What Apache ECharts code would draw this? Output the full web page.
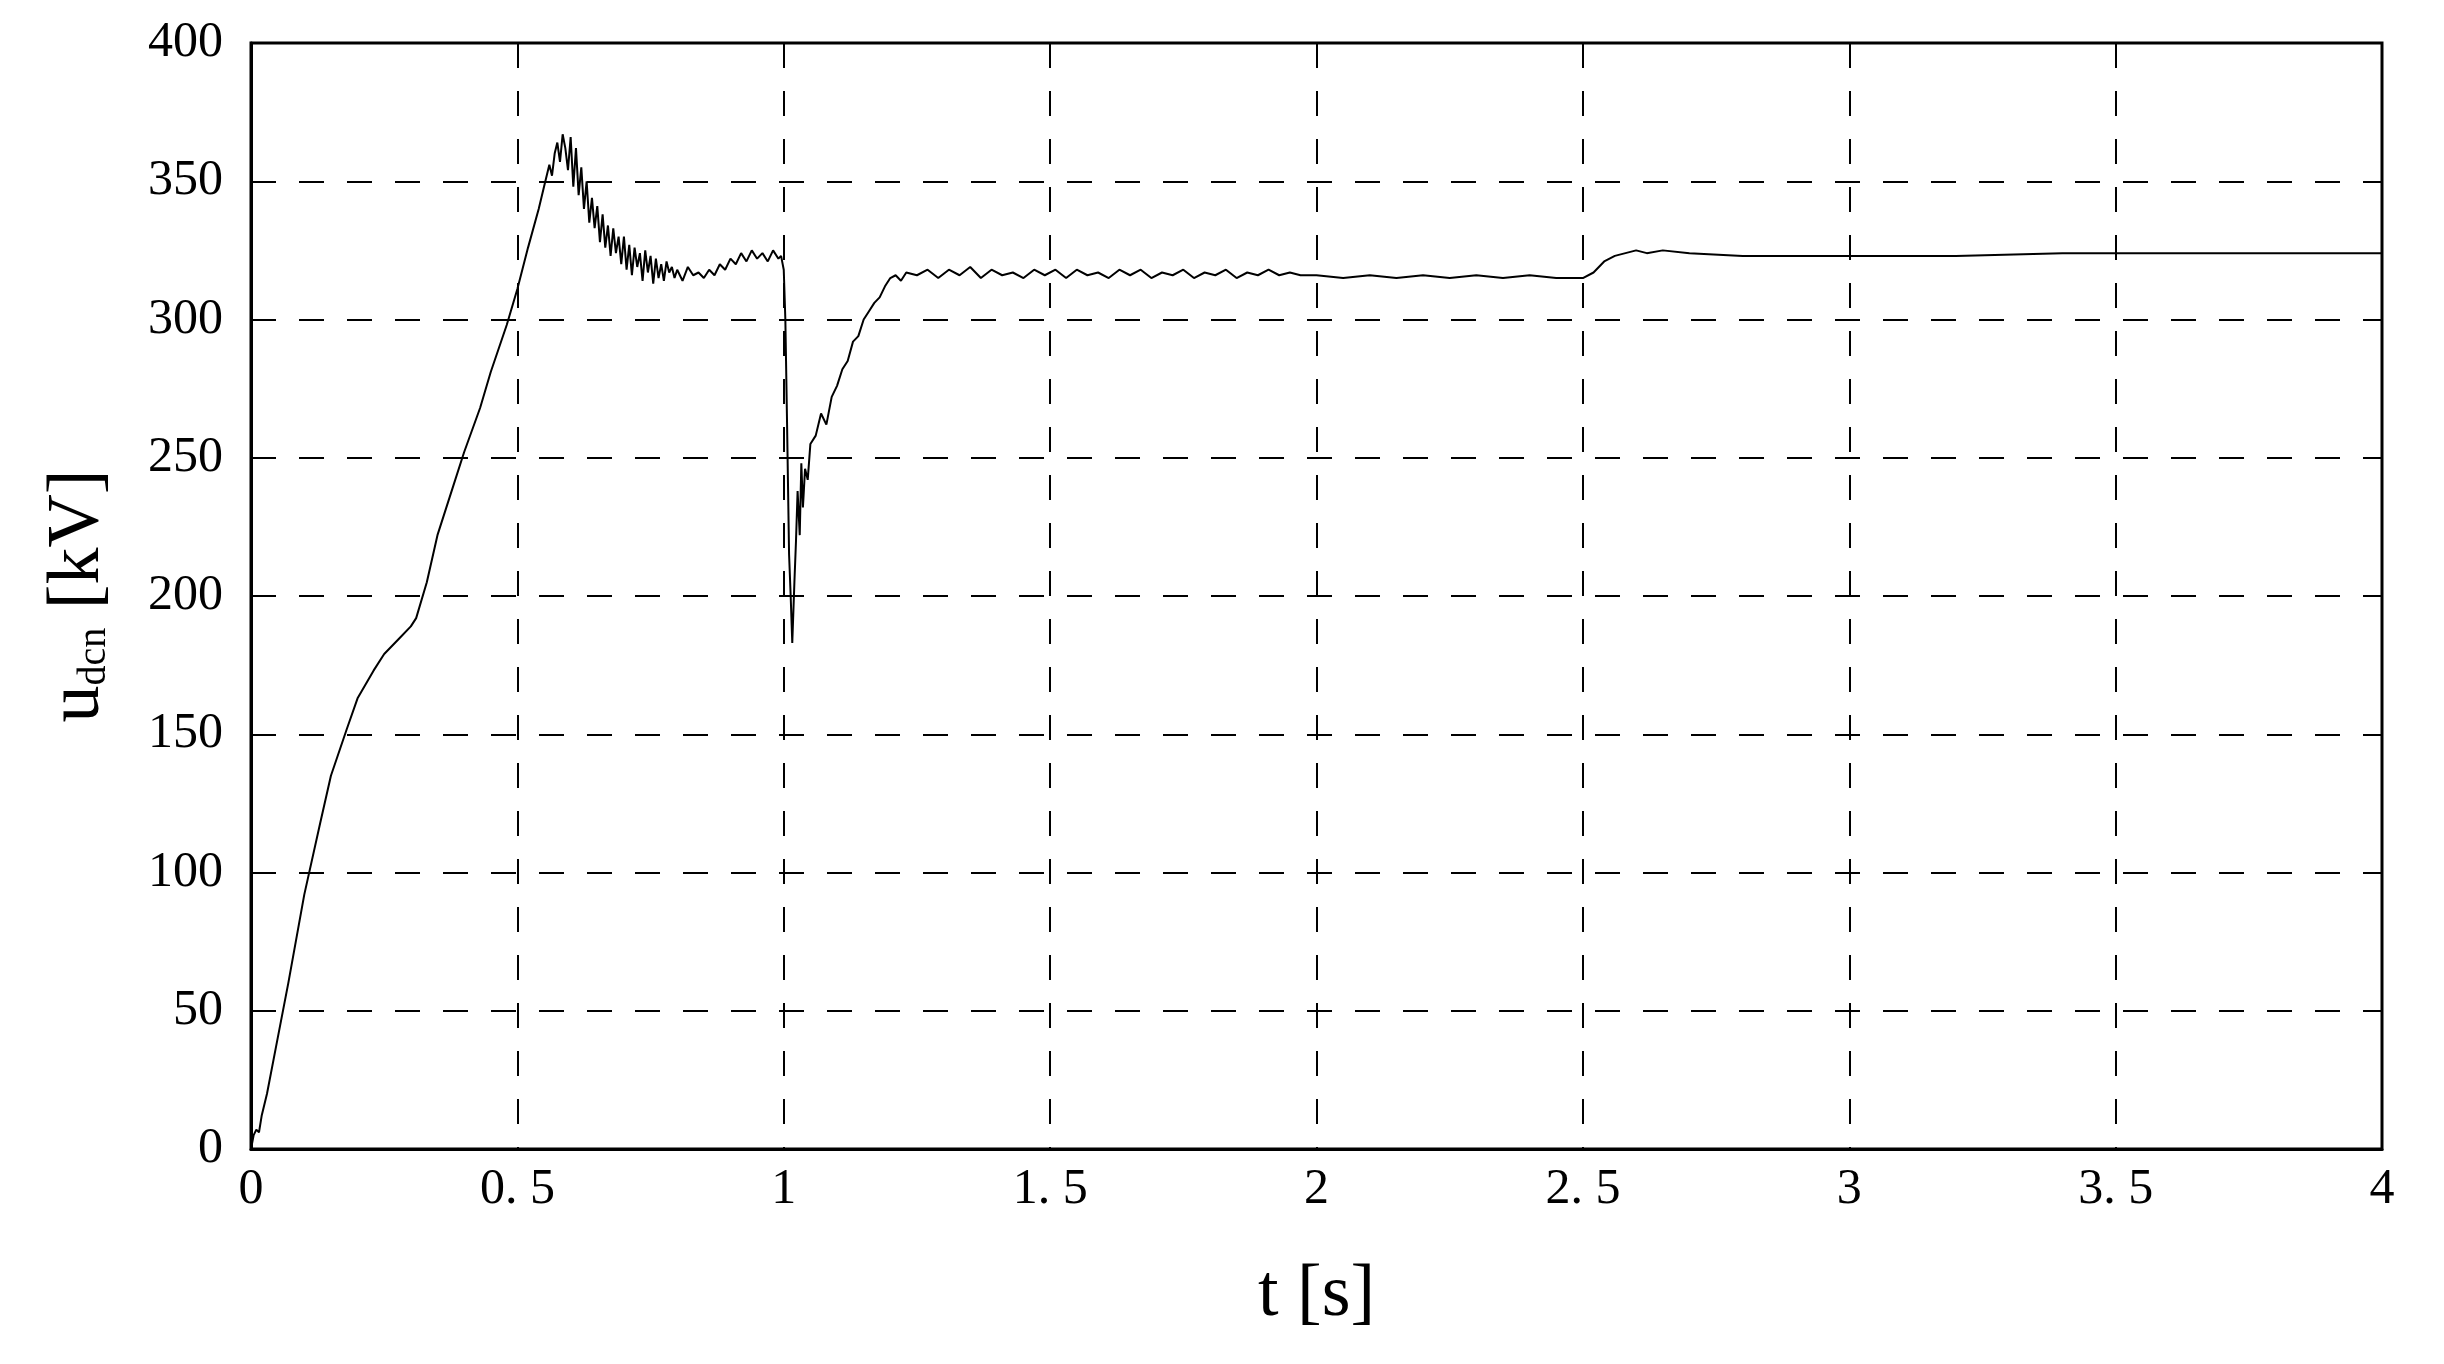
<!DOCTYPE html>
<html><head><meta charset="utf-8">
<script src="https://cdn.jsdelivr.net/npm/echarts@6/dist/echarts.min.js"></script>
<style>html,body{margin:0;padding:0;background:#fff}#c{width:2444px;height:1364px}</style>
</head><body><div id="c"></div>
<script>
// [t (s), u_dcn (kV)]
const rampUp = [[0,0],[0.005,5],[0.01,7],[0.015,6],[0.02,12],[0.03,20],[0.05,40],[0.07,60],[0.1,92],[0.13,118],[0.15,135],[0.18,152],[0.2,163],[0.23,173],[0.25,179],[0.28,185],[0.3,189],[0.31,192],[0.33,205],[0.35,222],[0.38,240],[0.4,252],[0.43,268],[0.45,281],[0.48,298],[0.5,311],[0.52,326],[0.54,340],[0.55,348],[0.56,356]];
const overshoot = [[0.565,352],[0.57,360],[0.575,364],[0.58,357],[0.585,367],[0.59,362],[0.595,354],[0.6,366],[0.605,348],[0.61,362],[0.615,345],[0.62,355],[0.625,340],[0.63,350],[0.635,335],[0.64,344],[0.645,333],[0.65,341],[0.655,328],[0.66,338],[0.665,326],[0.67,334],[0.675,323],[0.68,333],[0.685,324],[0.69,330],[0.695,320],[0.7,330],[0.705,318],[0.71,327],[0.715,316],[0.72,326],[0.725,319],[0.73,324],[0.735,314],[0.74,325],[0.745,317],[0.75,323],[0.755,313],[0.76,322],[0.765,315],[0.77,320],[0.775,314],[0.78,321],[0.785,317],[0.79,319],[0.795,315],[0.8,318],[0.81,314],[0.82,319],[0.83,316],[0.84,317],[0.85,315],[0.86,318],[0.87,316],[0.88,320],[0.89,318],[0.9,322],[0.91,320],[0.92,324],[0.93,321],[0.94,325],[0.95,322],[0.96,324],[0.97,321],[0.98,325],[0.99,322],[0.995,323]];
const fault = [[1.0,318],[1.003,300],[1.006,265],[1.01,215],[1.013,200],[1.016,183],[1.02,205],[1.023,220],[1.026,238],[1.03,222],[1.033,248],[1.036,232],[1.04,246],[1.045,242],[1.05,255],[1.06,258],[1.07,266],[1.08,262],[1.09,272],[1.1,276],[1.11,282],[1.12,285],[1.13,292],[1.14,294],[1.15,300],[1.16,303],[1.17,306],[1.18,308],[1.19,312],[1.2,315],[1.21,316],[1.22,314],[1.23,317]];
const steady1 = [[1.25,316],[1.27,318],[1.29,315],[1.31,318],[1.33,316],[1.35,319],[1.37,315],[1.39,318],[1.41,316],[1.43,317],[1.45,315],[1.47,318],[1.49,316],[1.51,318],[1.53,315],[1.55,318],[1.57,316],[1.59,317],[1.61,315],[1.63,318],[1.65,316],[1.67,318],[1.69,315],[1.71,317],[1.73,316],[1.75,318],[1.77,315],[1.79,317],[1.81,316],[1.83,318],[1.85,315],[1.87,317],[1.89,316],[1.91,318],[1.93,316],[1.95,317],[1.97,316],[2.0,316]];
const steady2 = [[2.05,315],[2.1,316],[2.15,315],[2.2,316],[2.25,315],[2.3,316],[2.35,315],[2.4,316],[2.45,315],[2.5,315],[2.52,317],[2.54,321],[2.56,323],[2.58,324],[2.6,325],[2.62,324],[2.65,325],[2.7,324],[2.8,323],[2.9,323],[3.0,323],[3.2,323],[3.4,324],[3.5,324],[3.6,324],[3.8,324],[4.0,324]];
const xTicks = ['0','0. 5','1','1. 5','2','2. 5','3','3. 5','4'];
const data = [].concat(rampUp, overshoot, fault, steady1, steady2);
const ff = '"Liberation Serif","DejaVu Serif",serif';
const grid = {type:[25,23],color:'#000',width:2};
const chart = echarts.init(document.getElementById('c'));
chart.setOption({
  animation:false,
  grid:{left:251,right:62,top:43,bottom:215},
  xAxis:{type:'value',min:0,max:4,interval:0.5,
    name:'t [s]',nameLocation:'middle',nameGap:110,nameTextStyle:{fontFamily:ff,fontSize:74,color:'#000'},
    axisLine:{lineStyle:{color:'#000',width:3}},axisTick:{show:false},
    axisLabel:{fontFamily:ff,fontSize:50,color:'#000',margin:16,formatter:(v)=>xTicks[Math.round(v*2)]},
    splitLine:{show:true,lineStyle:grid}},
  yAxis:{type:'value',min:0,max:400,interval:50,
    name:'{u|u}{s|dcn}{u| [kV]}',nameLocation:'middle',nameGap:135,nameRotate:90,
    nameTextStyle:{rich:{u:{fontFamily:ff,fontSize:74,color:'#000'},s:{fontFamily:ff,fontSize:40,color:'#000',padding:[30,0,0,0]}}},
    axisLine:{show:true,lineStyle:{color:'#000',width:3}},axisTick:{show:false},
    axisLabel:{fontFamily:ff,fontSize:50,color:'#000',margin:28},
    splitLine:{show:true,lineStyle:grid}},
  series:[{type:'line',data:data,showSymbol:false,lineStyle:{color:'#000',width:2}}]
});
chart.setOption({graphic:[{type:'rect',shape:{x:251,y:43,width:2444-251-62,height:1364-43-215},style:{fill:'none',stroke:'#000',lineWidth:3},z:100}]});
</script></body></html>
